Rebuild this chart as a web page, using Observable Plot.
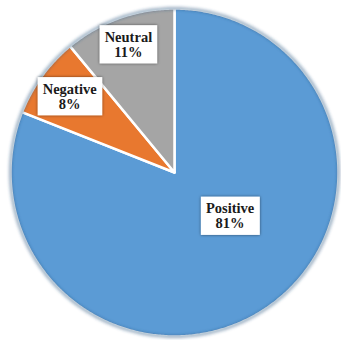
<!DOCTYPE html>
<html>
<head>
<meta charset="utf-8">
<script src="https://cdn.jsdelivr.net/npm/d3@7"></script>
<script src="https://cdn.jsdelivr.net/npm/@observablehq/plot@0.6"></script>
<style>
  html, body { margin: 0; padding: 0; background: #fff; overflow: hidden; }
</style>
</head>
<body>
<div id="chart"></div>
<script>
// Sentiment shares
const categories = ["Positive", "Negative", "Neutral"];
const shares = [81, 8, 11];
const labelTexts = ["Positive\n81%", "Negative\n8%", "Neutral\n11%"];
const colors = ["#5b9bd5", "#e8782f", "#a5a5a5"];

const rows = categories.map((c, i) => ({category: c, share: shares[i], label: labelTexts[i]}));
const arcs = d3.pie().sort(null).value(d => d.share)(rows);

// Each slice as a closed outline: centre -> arc -> centre (unit circle, clockwise from 12 o'clock)
const slicePoints = arcs.flatMap(a => {
  const n = Math.max(2, Math.ceil((a.endAngle - a.startAngle) / 0.01));
  const pts = [{category: a.data.category, x: 0, y: 0}];
  for (let k = 0; k <= n; k++) {
    const t = a.startAngle + (a.endAngle - a.startAngle) * k / n;
    pts.push({category: a.data.category, x: Math.sin(t), y: Math.cos(t)});
  }
  pts.push({category: a.data.category, x: 0, y: 0});
  return pts;
});

// Outer rim used for the soft darker edge
const rim = d3.range(0, 361, 1).map(d => ({x: Math.sin(d * Math.PI / 180), y: Math.cos(d * Math.PI / 180)}));

// Label anchors: angle (deg, clockwise from top) and fraction of the radius
const placement = {Positive: {angle: 128, r: 0.43}, Negative: {angle: null, r: 0.79}, Neutral: {angle: null, r: 0.83}};
const labelPoints = arcs.map(a => {
  const p = placement[a.data.category];
  const ang = p.angle != null ? p.angle * Math.PI / 180 : (a.startAngle + a.endAngle) / 2;
  return {label: a.data.label, x: p.r * Math.sin(ang), y: p.r * Math.cos(ang)};
});

const chart = Plot.plot({
  width: 341,
  height: 340,
  marginLeft: 10,
  marginRight: 3,
  marginTop: 8,
  marginBottom: 4,
  x: {axis: null, domain: [-1, 1]},
  y: {axis: null, domain: [-1, 1]},
  color: {domain: categories, range: colors},
  marks: [
    Plot.line(slicePoints, {x: "x", y: "y", z: "category", fill: "category", stroke: "white", strokeWidth: 2.5, curve: "linear"}),
    Plot.line(rim, {x: "x", y: "y", stroke: "#1f4e79", strokeOpacity: 0.45, strokeWidth: 3, className: "rim"}),
    Plot.text(labelPoints, {
      x: "x", y: "y", text: "label",
      fontFamily: "Liberation Serif, Times New Roman, serif",
      fontWeight: "bold", fontSize: 14.5, lineHeight: 1.05,
      fill: "#1a1a1a", className: "pie-labels"
    })
  ]
});

document.getElementById("chart").append(chart);

// Filters: blurred rim and a soft shadow under the label boxes
const svg = d3.select(chart);
const defs = svg.insert("defs", ":first-child");
defs.append("filter").attr("id", "rim-blur").attr("x", "-10%").attr("y", "-10%").attr("width", "120%").attr("height", "120%")
  .append("feGaussianBlur").attr("stdDeviation", 1.5);
defs.append("filter").attr("id", "box-shadow").attr("x", "-20%").attr("y", "-20%").attr("width", "140%").attr("height", "140%")
  .append("feDropShadow").attr("dx", 0).attr("dy", 0).attr("stdDeviation", 1.5).attr("flood-color", "#000").attr("flood-opacity", 0.55);
svg.selectAll(".rim path").attr("filter", "url(#rim-blur)");

// White boxes behind each label, sharing the label's own transform
svg.selectAll(".pie-labels text").each(function() {
  const b = this.getBBox();
  const padX = 5, padY = 3.5;
  const rect = d3.select(this.parentNode).insert("rect", () => this)
    .attr("x", b.x - padX).attr("y", b.y - padY)
    .attr("width", b.width + 2 * padX).attr("height", b.height + 2 * padY)
    .attr("fill", "white").attr("filter", "url(#box-shadow)");
  const tr = this.getAttribute("transform");
  if (tr) rect.attr("transform", tr);
});
</script>
</body>
</html>
